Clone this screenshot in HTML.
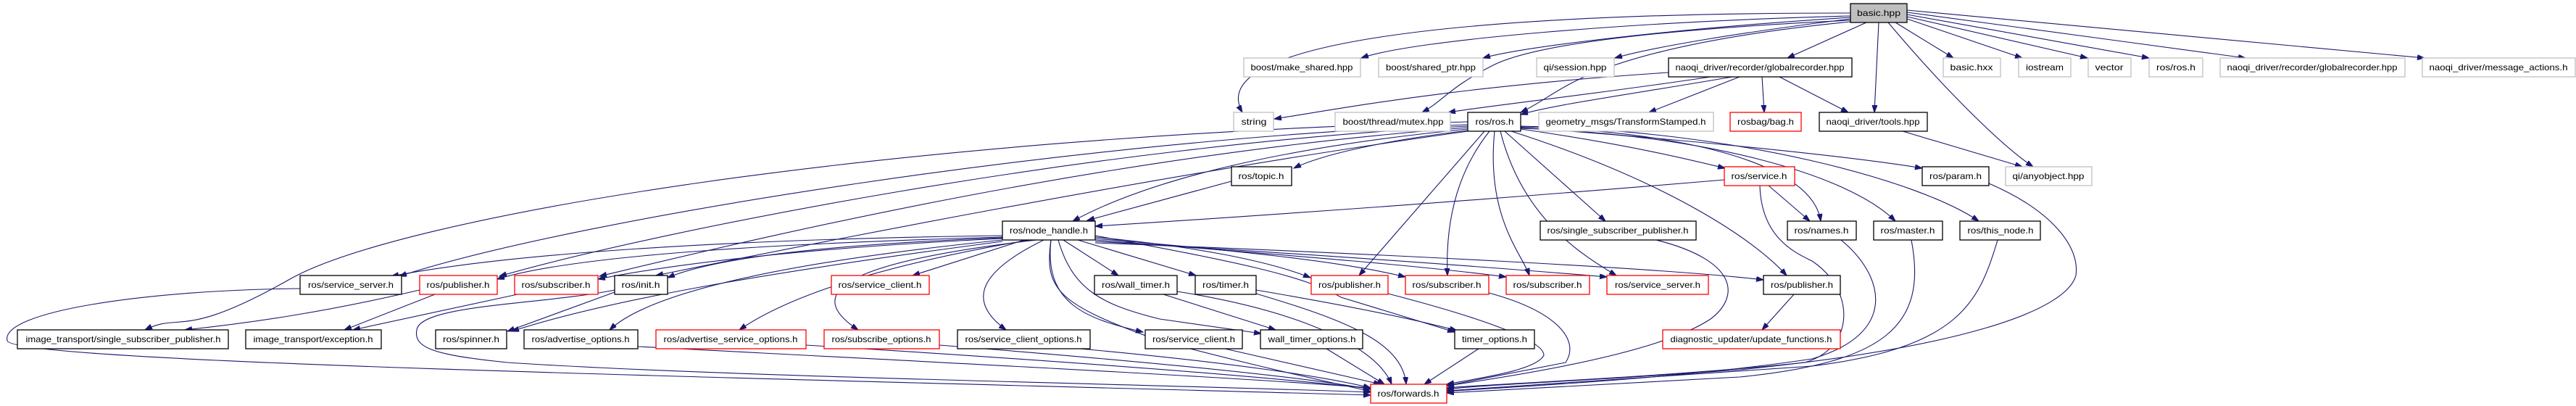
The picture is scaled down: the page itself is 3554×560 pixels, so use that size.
<!DOCTYPE html>
<html><head><meta charset="utf-8"><style>
html,body{margin:0;padding:0;background:#fff;}
svg{display:block;}
text{font-family:"Liberation Sans",sans-serif;font-size:12px;fill:#000;}
.e{fill:none;stroke:#191970;stroke-width:1.1;marker-end:url(#a);}
.b{fill:#fff;stroke:#000;stroke-width:1.3;}
.g{fill:#fff;stroke:#bfbfbf;stroke-width:1.3;}
.r{fill:#fff;stroke:#ff0000;stroke-width:1.3;}
</style></head><body>
<svg width="3554" height="560" viewBox="0 0 3554 560" xmlns="http://www.w3.org/2000/svg">
<defs><marker id="a" markerWidth="11" markerHeight="8" refX="10" refY="3.5" orient="auto" markerUnits="userSpaceOnUse"><path d="M0,0 L10,3.5 L0,7 z" fill="#191970" stroke="#191970"/></marker></defs>
<g>
<!-- basic.hpp edges -->
<path class="e" d="M2553,22 C2250,30 1950,55 1878,80"/>
<path class="e" d="M2553,24 C2300,40 2100,65 2046,80"/>
<path class="e" d="M2553,26 C2400,45 2280,65 2228,80"/>
<path class="e" d="M2553,18 C2000,18 1660,60 1714,155"/>
<path class="e" d="M2553,28 C2300,40 2120,60 2060,90 S1990,140 1962,155"/>
<path class="e" d="M2553,30 C2350,50 2250,80 2200,100 S2130,140 2098,155"/>
<path class="e" d="M2575,31 L2466,80"/>
<path class="e" d="M2592,31 L2586,155"/>
<path class="e" d="M2605,31 C2680,120 2760,200 2805,230"/>
<path class="e" d="M2615,31 L2695,80"/>
<path class="e" d="M2631,26 L2790,80"/>
<path class="e" d="M2631,23 L2880,80"/>
<path class="e" d="M2631,20 L2965,80"/>
<path class="e" d="M2631,17 L3098,80"/>
<path class="e" d="M2631,14 L3345,80"/>
<!-- globalrecorder -->
<path class="e" d="M2302,100 C2000,120 1850,150 1758,164"/>
<path class="e" d="M2360,106 C2200,130 2060,145 1998,155"/>
<path class="e" d="M2390,106 C2250,130 2140,145 2098,158"/>
<path class="e" d="M2400,106 L2275,155"/>
<path class="e" d="M2431,106 L2434,155"/>
<path class="e" d="M2455,106 L2550,155"/>
<path class="e" d="M2625,181 L2790,230"/>
<!-- ros.h -->
<path class="e" d="M2025,178 C1800,200 1600,240 1480,305"/>
<path class="e" d="M2025,180 C1900,195 1820,215 1785,232"/>
<path class="e" d="M2025,172 C1500,190 800,300 551,381"/>
<path class="e" d="M2025,174 C1500,200 900,320 689,381"/>
<path class="e" d="M2025,176 C1500,215 1000,340 827,381"/>
<path class="e" d="M2025,181 C1600,240 1100,340 905,380"/>
<path class="e" d="M2025,168 C1200,190 550,300 400,385 S250,430 200,455"/>
<path class="e" d="M2098,178 C2250,200 2330,220 2380,232"/>
<path class="e" d="M2098,176 C2300,190 2550,215 2652,232"/>
<path class="e" d="M2098,175 C2300,180 2500,220 2512,305"/>
<path class="e" d="M2098,177 C2350,185 2550,240 2615,305"/>
<path class="e" d="M2098,174 C2400,180 2650,250 2730,305"/>
<path class="e" d="M2076,181 L2215,305"/>
<path class="e" d="M2048,181 L1875,380"/>
<path class="e" d="M2055,181 C2000,250 1995,330 1997,380"/>
<path class="e" d="M2062,181 C2050,300 2100,350 2110,380"/>
<path class="e" d="M2070,181 C2100,300 2180,350 2230,380"/>
<path class="e" d="M2085,181 C2300,250 2420,330 2465,380"/>
<!-- topic, service, etc -->
<path class="e" d="M1699,250 L1500,304"/>
<path class="e" d="M2379,248 C2000,280 1700,300 1511,312"/>
<path class="e" d="M2440,256 L2497,305"/>
<path class="e" d="M2428,256 C2430,330 2480,350 2500,360 C2560,400 2560,480 2490,500 C2300,520 2050,530 1996,535"/>
<path class="e" d="M2744,253 C2830,290 2870,340 2864,380 C2850,430 2700,480 2400,510 C2200,525 2050,530 1996,537"/>
<path class="e" d="M2540,331 C2600,380 2620,460 2500,495 C2300,525 2050,535 1996,540"/>
<path class="e" d="M2637,331 C2660,450 2600,500 2400,520 L1996,542"/>
<path class="e" d="M2756,331 C2730,420 2700,480 2500,505 L1996,539"/>
<path class="e" d="M2285,331 C2400,360 2400,410 2360,440 C2300,480 2150,510 1996,532"/>
<!-- node_handle -->
<path class="e" d="M1383,325 C1000,330 700,350 540,381"/>
<path class="e" d="M1383,327 C1100,335 800,350 686,385"/>
<path class="e" d="M1383,329 C1150,340 950,360 825,385"/>
<path class="e" d="M1383,328 C1200,335 1000,350 921,383"/>
<path class="e" d="M1413,331 L1259,380"/>
<path class="e" d="M1420,331 C1250,360 1100,400 1020,455"/>
<path class="e" d="M1430,331 C1180,360 1100,400 1184,455"/>
<path class="e" d="M1440,331 C1340,380 1340,420 1388,455"/>
<path class="e" d="M1450,331 C1440,420 1500,440 1577,458"/>
<path class="e" d="M1467,331 L1543,380"/>
<path class="e" d="M1487,331 L1650,380"/>
<path class="e" d="M1460,331 C1480,400 1520,420 1600,440 L1740,460"/>
<path class="e" d="M1511,325 C1700,360 1800,380 1850,410 L2007,458"/>
<path class="e" d="M1450,331 C1440,400 1460,420 1600,470 C1750,510 1850,530 1891,540"/>
<path class="e" d="M1511,327 C1650,340 1750,360 1808,383"/>
<path class="e" d="M1511,329 C1700,345 1850,360 1939,382"/>
<path class="e" d="M1511,331 C1750,350 1950,365 2078,382"/>
<path class="e" d="M1511,333 C1800,350 2050,368 2217,382"/>
<path class="e" d="M1511,335 C1900,350 2300,370 2433,386"/>
<path class="e" d="M1383,331 C1100,360 900,400 841,455"/>
<path class="e" d="M1383,333 C1100,370 850,410 706,457"/>
<!-- row6 -->
<path class="e" d="M414,398 C200,400 0,430 10,470 C20,500 1000,520 1891,545"/>
<path class="e" d="M579,400 C450,430 350,445 255,455"/>
<path class="e" d="M600,406 L475,455"/>
<path class="e" d="M714,406 L487,455"/>
<path class="e" d="M848,400 C750,420 580,420 575,455 C570,480 600,490 700,500 C1000,520 1600,530 1891,541"/>
<path class="e" d="M848,403 L700,457"/>
<path class="e" d="M1605,406 L1760,455"/>
<path class="e" d="M1624,402 C1800,430 1900,480 1920,530"/>
<path class="e" d="M1733,400 C1850,420 1950,440 2010,456"/>
<path class="e" d="M1733,405 C1850,440 1935,470 1940,530"/>
<path class="e" d="M1915,405 C2050,440 2130,470 2130,490 C2120,510 2050,520 1996,530"/>
<path class="e" d="M2054,404 C2150,430 2180,470 2160,500 L1996,532"/>
<path class="e" d="M2475,406 L2431,455"/>
<!-- row7 -->
<path class="e" d="M880,478 C1300,500 1700,520 1891,535"/>
<path class="e" d="M1112,476 C1500,500 1750,520 1891,536"/>
<path class="e" d="M1296,476 C1600,500 1800,520 1891,537"/>
<path class="e" d="M1490,481 C1700,500 1830,520 1891,535"/>
<path class="e" d="M1690,481 L1905,530"/>
<path class="e" d="M1830,481 L1910,530"/>
<path class="e" d="M2040,481 L1965,530"/>
</g>
<g>
<!-- row1 -->
<rect x="2553" y="5" width="78" height="26" fill="#bfbfbf" stroke="#000" stroke-width="1.3"/><text x="2592" y="22" text-anchor="middle" textLength="60" lengthAdjust="spacingAndGlyphs">basic.hpp</text>
<!-- row2 -->
<rect class="g" x="1716" y="80" width="161" height="26"/><text x="1796" y="97" text-anchor="middle" textLength="141" lengthAdjust="spacingAndGlyphs">boost/make_shared.hpp</text>
<rect class="g" x="1902" y="80" width="144" height="26"/><text x="1974" y="97" text-anchor="middle" textLength="124" lengthAdjust="spacingAndGlyphs">boost/shared_ptr.hpp</text>
<rect class="g" x="2120" y="80" width="107" height="26"/><text x="2173" y="97" text-anchor="middle" textLength="87" lengthAdjust="spacingAndGlyphs">qi/session.hpp</text>
<rect class="b" x="2302" y="80" width="253" height="26"/><text x="2428" y="97" text-anchor="middle" textLength="233" lengthAdjust="spacingAndGlyphs">naoqi_driver/recorder/globalrecorder.hpp</text>
<rect class="g" x="2681" y="80" width="79" height="26"/><text x="2720" y="97" text-anchor="middle" textLength="59" lengthAdjust="spacingAndGlyphs">basic.hxx</text>
<rect class="g" x="2785" y="80" width="72" height="26"/><text x="2821" y="97" text-anchor="middle" textLength="52" lengthAdjust="spacingAndGlyphs">iostream</text>
<rect class="g" x="2881" y="80" width="59" height="26"/><text x="2910" y="97" text-anchor="middle" textLength="39" lengthAdjust="spacingAndGlyphs">vector</text>
<rect class="g" x="2965" y="80" width="74" height="26"/><text x="3002" y="97" text-anchor="middle" textLength="54" lengthAdjust="spacingAndGlyphs">ros/ros.h</text>
<rect class="g" x="3063" y="80" width="255" height="26"/><text x="3190" y="97" text-anchor="middle" textLength="235" lengthAdjust="spacingAndGlyphs">naoqi_driver/recorder/globalrecorder.hpp</text>
<rect class="g" x="3342" y="80" width="211" height="26"/><text x="3447" y="97" text-anchor="middle" textLength="191" lengthAdjust="spacingAndGlyphs">naoqi_driver/message_actions.h</text>
<!-- row3 -->
<rect class="g" x="1702" y="155" width="55" height="26"/><text x="1730" y="172" text-anchor="middle" textLength="35" lengthAdjust="spacingAndGlyphs">string</text>
<rect class="g" x="1842" y="155" width="159" height="26"/><text x="1922" y="172" text-anchor="middle" textLength="139" lengthAdjust="spacingAndGlyphs">boost/thread/mutex.hpp</text>
<rect class="b" x="2025" y="155" width="73" height="26"/><text x="2062" y="172" text-anchor="middle" textLength="53" lengthAdjust="spacingAndGlyphs">ros/ros.h</text>
<rect class="g" x="2123" y="155" width="241" height="26"/><text x="2243" y="172" text-anchor="middle" textLength="221" lengthAdjust="spacingAndGlyphs">geometry_msgs/TransformStamped.h</text>
<rect class="r" x="2387" y="155" width="98" height="26"/><text x="2436" y="172" text-anchor="middle" textLength="78" lengthAdjust="spacingAndGlyphs">rosbag/bag.h</text>
<rect class="b" x="2510" y="155" width="149" height="26"/><text x="2584" y="172" text-anchor="middle" textLength="129" lengthAdjust="spacingAndGlyphs">naoqi_driver/tools.hpp</text>
<!-- row4 -->
<rect class="b" x="1699" y="230" width="83" height="26"/><text x="1740" y="247" text-anchor="middle" textLength="63" lengthAdjust="spacingAndGlyphs">ros/topic.h</text>
<rect class="r" x="2379" y="230" width="97" height="26"/><text x="2427" y="247" text-anchor="middle" textLength="77" lengthAdjust="spacingAndGlyphs">ros/service.h</text>
<rect class="b" x="2652" y="230" width="92" height="26"/><text x="2698" y="247" text-anchor="middle" textLength="72" lengthAdjust="spacingAndGlyphs">ros/param.h</text>
<rect class="g" x="2767" y="230" width="119" height="26"/><text x="2826" y="247" text-anchor="middle" textLength="99" lengthAdjust="spacingAndGlyphs">qi/anyobject.hpp</text>
<!-- row5 -->
<rect class="b" x="1383" y="305" width="128" height="26"/><text x="1447" y="322" text-anchor="middle" textLength="108" lengthAdjust="spacingAndGlyphs">ros/node_handle.h</text>
<rect class="b" x="2125" y="305" width="215" height="26"/><text x="2232" y="322" text-anchor="middle" textLength="195" lengthAdjust="spacingAndGlyphs">ros/single_subscriber_publisher.h</text>
<rect class="b" x="2466" y="305" width="95" height="26"/><text x="2513" y="322" text-anchor="middle" textLength="75" lengthAdjust="spacingAndGlyphs">ros/names.h</text>
<rect class="b" x="2585" y="305" width="95" height="26"/><text x="2632" y="322" text-anchor="middle" textLength="75" lengthAdjust="spacingAndGlyphs">ros/master.h</text>
<rect class="b" x="2704" y="305" width="111" height="26"/><text x="2760" y="322" text-anchor="middle" textLength="91" lengthAdjust="spacingAndGlyphs">ros/this_node.h</text>
<!-- row6 -->
<rect class="b" x="414" y="380" width="140" height="26"/><text x="484" y="397" text-anchor="middle" textLength="118" lengthAdjust="spacingAndGlyphs">ros/service_server.h</text>
<rect class="r" x="579" y="380" width="107" height="26"/><text x="632" y="397" text-anchor="middle" textLength="87" lengthAdjust="spacingAndGlyphs">ros/publisher.h</text>
<rect class="r" x="710" y="380" width="115" height="26"/><text x="767" y="397" text-anchor="middle" textLength="95" lengthAdjust="spacingAndGlyphs">ros/subscriber.h</text>
<rect class="b" x="848" y="380" width="73" height="26"/><text x="884" y="397" text-anchor="middle" textLength="53" lengthAdjust="spacingAndGlyphs">ros/init.h</text>
<rect class="r" x="1147" y="380" width="135" height="26"/><text x="1214" y="397" text-anchor="middle" textLength="115" lengthAdjust="spacingAndGlyphs">ros/service_client.h</text>
<rect class="b" x="1510" y="380" width="114" height="26"/><text x="1567" y="397" text-anchor="middle" textLength="94" lengthAdjust="spacingAndGlyphs">ros/wall_timer.h</text>
<rect class="b" x="1649" y="380" width="84" height="26"/><text x="1691" y="397" text-anchor="middle" textLength="64" lengthAdjust="spacingAndGlyphs">ros/timer.h</text>
<rect class="r" x="1809" y="380" width="106" height="26"/><text x="1862" y="397" text-anchor="middle" textLength="86" lengthAdjust="spacingAndGlyphs">ros/publisher.h</text>
<rect class="r" x="1939" y="380" width="115" height="26"/><text x="1996" y="397" text-anchor="middle" textLength="95" lengthAdjust="spacingAndGlyphs">ros/subscriber.h</text>
<rect class="r" x="2078" y="380" width="115" height="26"/><text x="2135" y="397" text-anchor="middle" textLength="95" lengthAdjust="spacingAndGlyphs">ros/subscriber.h</text>
<rect class="r" x="2217" y="380" width="140" height="26"/><text x="2287" y="397" text-anchor="middle" textLength="118" lengthAdjust="spacingAndGlyphs">ros/service_server.h</text>
<rect class="b" x="2433" y="380" width="106" height="26"/><text x="2486" y="397" text-anchor="middle" textLength="86" lengthAdjust="spacingAndGlyphs">ros/publisher.h</text>
<!-- row7 -->
<rect class="b" x="24" y="455" width="291" height="26"/><text x="170" y="472" text-anchor="middle" textLength="269" lengthAdjust="spacingAndGlyphs">image_transport/single_subscriber_publisher.h</text>
<rect class="b" x="339" y="455" width="187" height="26"/><text x="432" y="472" text-anchor="middle" textLength="165" lengthAdjust="spacingAndGlyphs">image_transport/exception.h</text>
<rect class="b" x="601" y="455" width="98" height="26"/><text x="650" y="472" text-anchor="middle" textLength="78" lengthAdjust="spacingAndGlyphs">ros/spinner.h</text>
<rect class="b" x="723" y="455" width="157" height="26"/><text x="801" y="472" text-anchor="middle" textLength="135" lengthAdjust="spacingAndGlyphs">ros/advertise_options.h</text>
<rect class="r" x="905" y="455" width="207" height="26"/><text x="1008" y="472" text-anchor="middle" textLength="185" lengthAdjust="spacingAndGlyphs">ros/advertise_service_options.h</text>
<rect class="r" x="1137" y="455" width="159" height="26"/><text x="1216" y="472" text-anchor="middle" textLength="137" lengthAdjust="spacingAndGlyphs">ros/subscribe_options.h</text>
<rect class="b" x="1321" y="455" width="183" height="26"/><text x="1412" y="472" text-anchor="middle" textLength="161" lengthAdjust="spacingAndGlyphs">ros/service_client_options.h</text>
<rect class="b" x="1580" y="455" width="134" height="26"/><text x="1647" y="472" text-anchor="middle" textLength="114" lengthAdjust="spacingAndGlyphs">ros/service_client.h</text>
<rect class="b" x="1739" y="455" width="141" height="26"/><text x="1810" y="472" text-anchor="middle" textLength="121" lengthAdjust="spacingAndGlyphs">wall_timer_options.h</text>
<rect class="b" x="2007" y="455" width="110" height="26"/><text x="2062" y="472" text-anchor="middle" textLength="90" lengthAdjust="spacingAndGlyphs">timer_options.h</text>
<rect class="r" x="2294" y="455" width="245" height="26"/><text x="2416" y="472" text-anchor="middle" textLength="223" lengthAdjust="spacingAndGlyphs">diagnostic_updater/update_functions.h</text>
<!-- row8 -->
<rect class="r" x="1891" y="530" width="105" height="26"/><text x="1943" y="547" text-anchor="middle" textLength="85" lengthAdjust="spacingAndGlyphs">ros/forwards.h</text>
</g>
</svg>
</body></html>
